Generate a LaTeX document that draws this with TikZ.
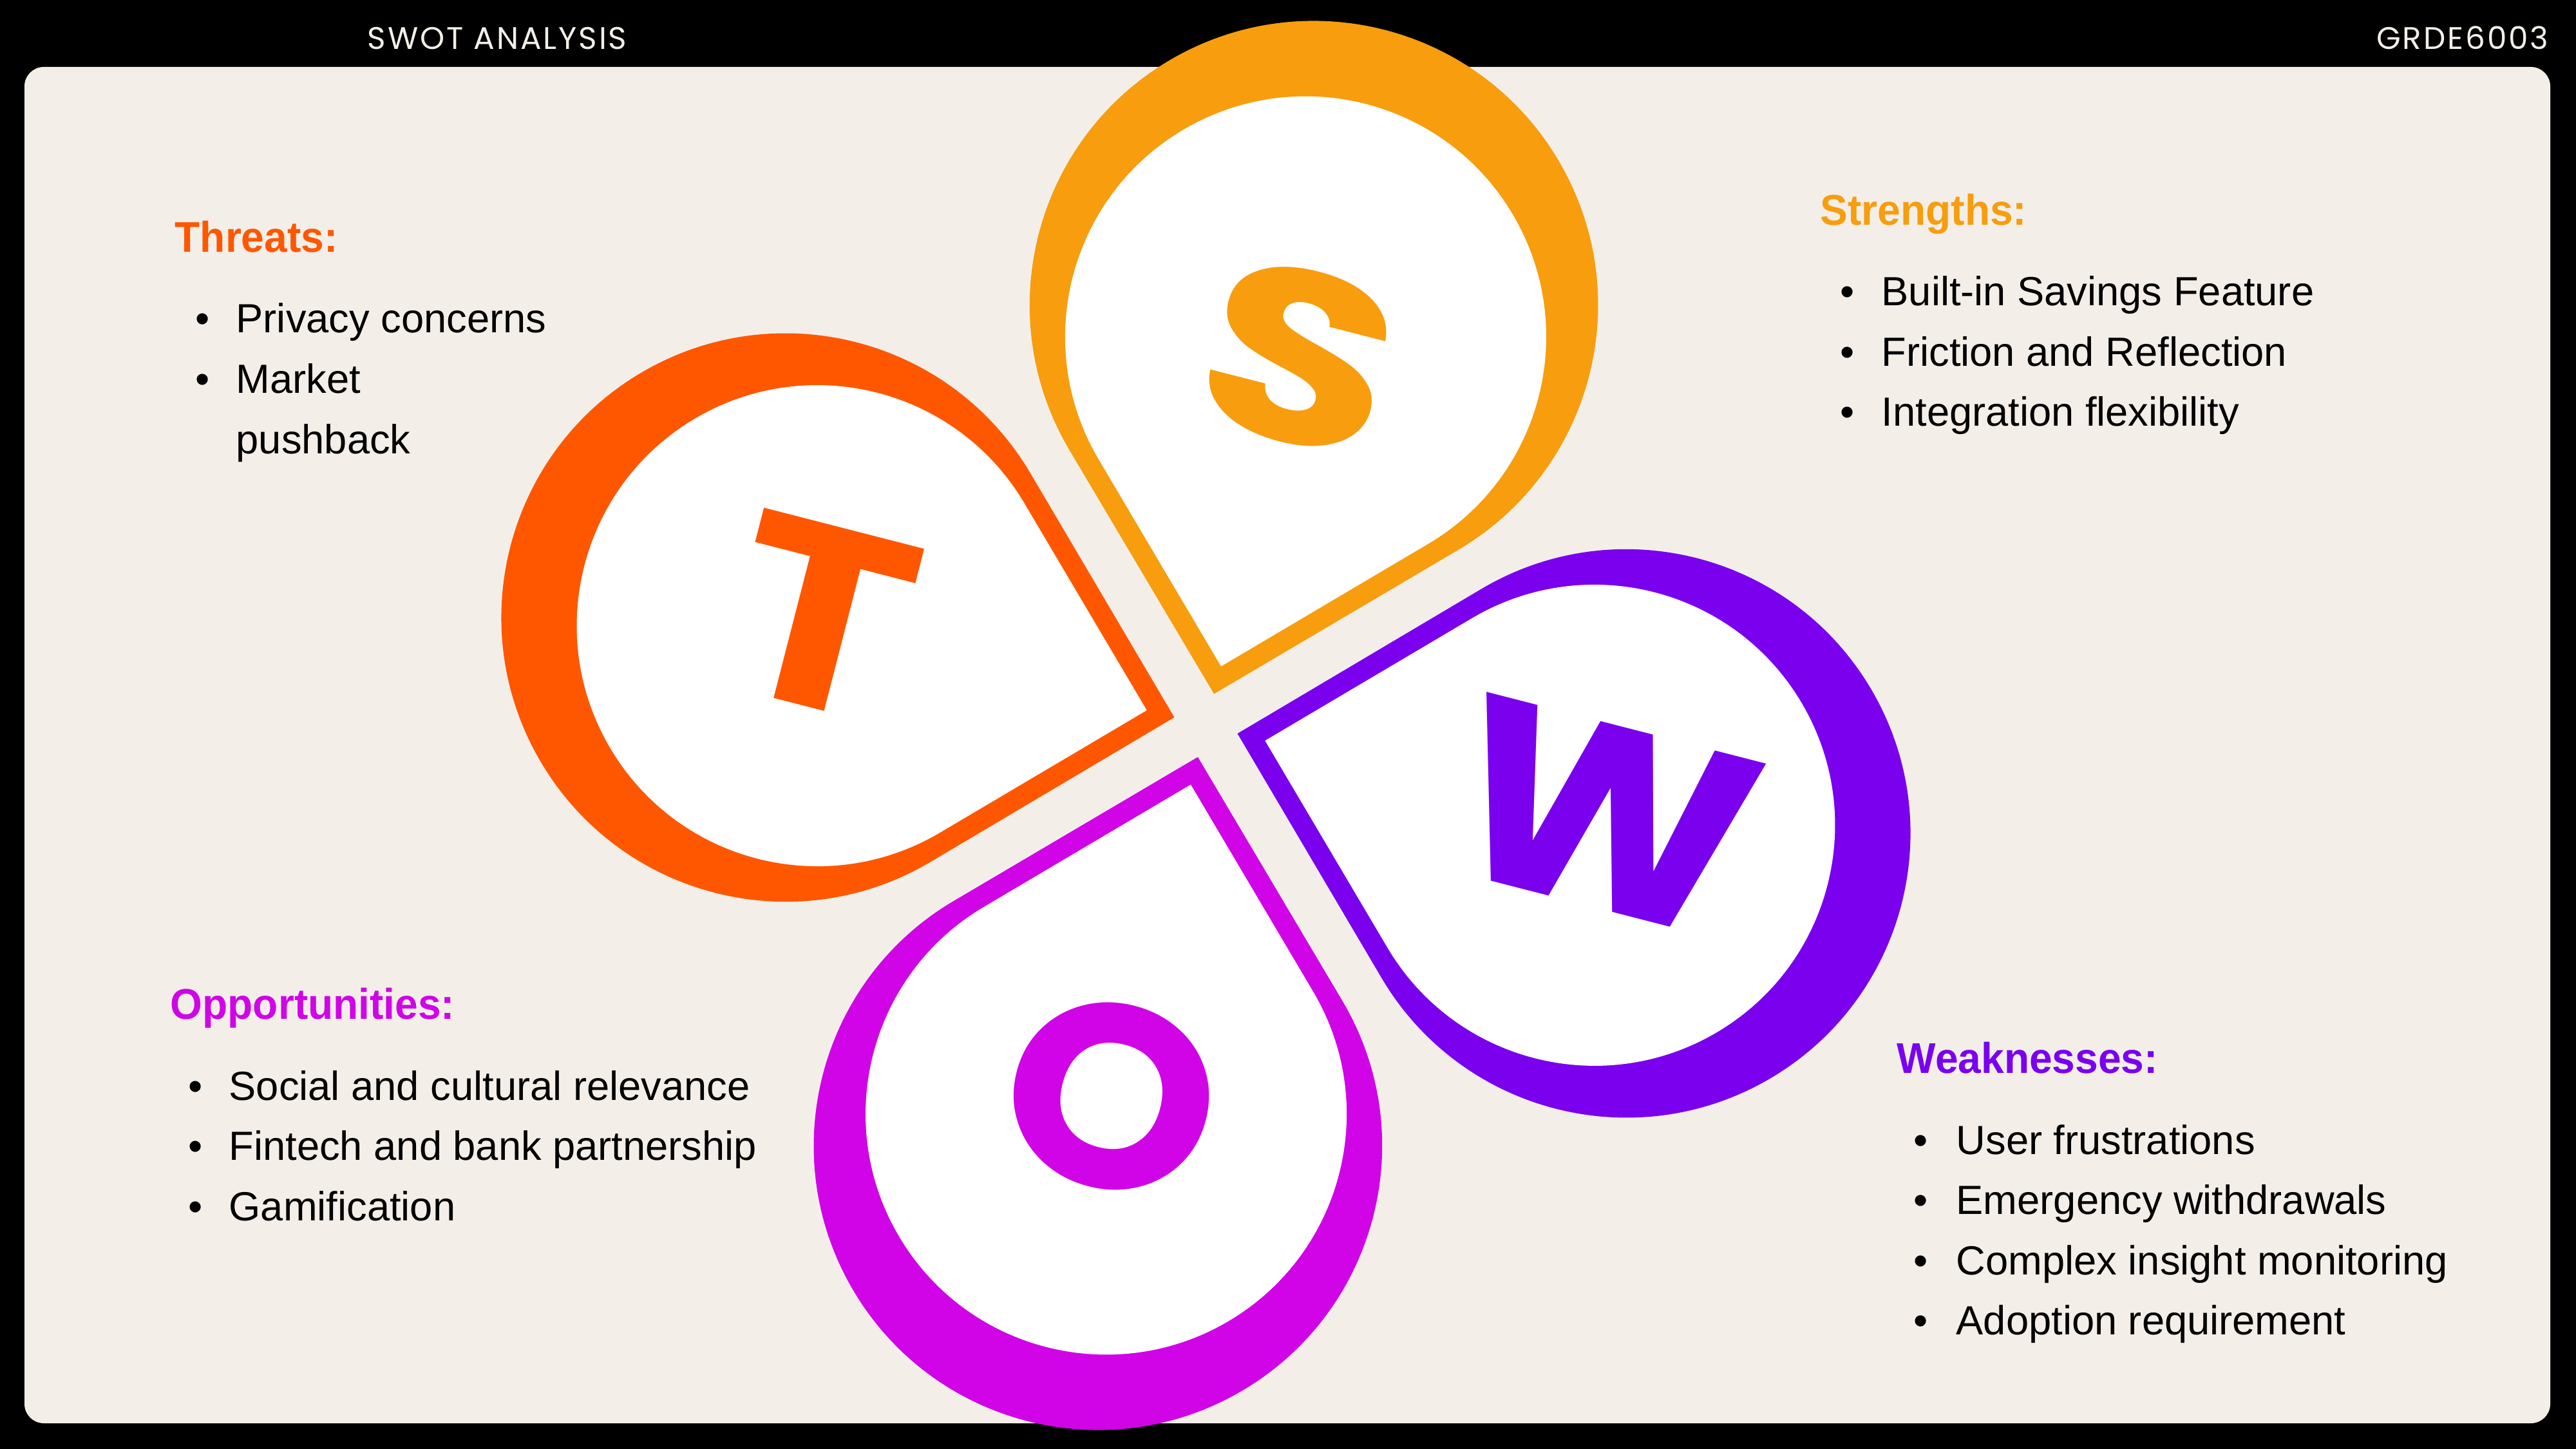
\documentclass[tikz,border=0pt]{standalone}
\usepackage{fontspec}
\usepackage{graphicx}
\setmainfont{Liberation Sans}[BoldFeatures={FakeStretch=0.96}]
\newfontfamily\popfont{Poppins}
\usetikzlibrary{calc}
\definecolor{swotS}{RGB}{248,157,14}
\definecolor{swotT}{RGB}{255,87,0}
\definecolor{swotW}{RGB}{122,0,238}
\definecolor{swotO}{RGB}{208,4,230}
\definecolor{panel}{RGB}{243,239,232}
\tikzset{
  head/.style={anchor=base west,inner sep=0pt,font=\fontsize{19}{19}\selectfont\bfseries},
  item/.style={anchor=base west,inner sep=0pt,font=\fontsize{18}{18}\selectfont},
  bul/.style={anchor=base,inner sep=0pt,font=\fontsize{18}{18}\selectfont},
  ltr/.style={inner sep=0pt,rotate=-14.4,font=\popfont\bfseries\fontsize{106}{106}\selectfont},
  topline/.style={inner sep=0pt,text=panel,font=\popfont\fontsize{13.8}{14}\selectfont}
}
\begin{document}
\begin{tikzpicture}
\useasboundingbox (0,0) rectangle (40,-22.5);
\fill[black] (0,0) rectangle (40,-22.5);
\fill[panel,rounded corners=0.3cm] (0.38,-1.04) rectangle (39.60,-22.10);
\node[topline,anchor=base west] (title) at (5.70,-0.77) {\addfontfeatures{LetterSpace=6}SWOT ANALYSIS};
\node[topline,anchor=base east] (code) at (39.58,-0.77) {\addfontfeatures{LetterSpace=6}GRDE6003};
% four petals round the middle
\begin{scope}[shift={(18.725,-11.265)},rotate=-14.4]
  \foreach \ang/\col/\ch/\off/\dist/\sx/\sy in {0/swotS/S/-0.02/5.91/1.3/1.01,90/swotT/T/0.15/6.2/1.27/1.08,180/swotO/O/-0.01/5.94/1.13/1.08,-90/swotW/W/-0.17/6.34/1.2/1.08}{
    \begin{scope}[rotate=\ang]
      \fill[\col] (0,0.506) -- (3.121,3.619) arc[start angle=-45,end angle=225,radius=4.413] -- cycle;
      \fill[white] (0,0.948) -- (2.641,3.589) arc[start angle=-45,end angle=225,radius=3.735] -- cycle;
      \node[ltr,text=\col] (ltr\ch) at (\off,\dist) {\scalebox{\sx}[\sy]{\ch}};
    \end{scope}
  }
\end{scope}
% threats
\node[head,text=swotT] (threats) at (2.71,-3.92) {Threats:};
\foreach \txt [count=\i] in {Privacy concerns,Market}{
  \node[bul] (tb\i) at (3.15,{-5.17-0.94*(\i-1)}) {•};
  \node[item] (t\i) at (3.66,{-5.17-0.94*(\i-1)}) {\txt};
}
\node[item] (t3) at (3.66,-7.05) {pushback};
% strengths
\node[head,text=swotS] (strengths) at (28.26,-3.50) {Strengths:};
\foreach \txt [count=\i] in {Built-in Savings Feature,Friction and Reflection,Integration flexibility}{
  \node[bul] (sb\i) at (28.69,{-4.75-0.935*(\i-1)}) {•};
  \node[item] (s\i) at (29.21,{-4.75-0.935*(\i-1)}) {\txt};
}
% opportunities
\node[head,text=swotO] (opps) at (2.64,-15.83) {Opportunities:};
\foreach \txt [count=\i] in {Social and cultural relevance,Fintech and bank partnership,Gamification}{
  \node[bul] (ob\i) at (3.04,{-17.08-0.935*(\i-1)}) {•};
  \node[item] (o\i) at (3.55,{-17.08-0.935*(\i-1)}) {\txt};
}
% weaknesses
\node[head,text=swotW] (weak) at (29.45,-16.66) {Weaknesses:};
\foreach \txt [count=\i] in {User frustrations,Emergency withdrawals,Complex insight monitoring,Adoption requirement}{
  \node[bul] (wb\i) at (29.83,{-17.92-0.935*(\i-1)}) {•};
  \node[item] (w\i) at (30.37,{-17.92-0.935*(\i-1)}) {\txt};
}
\end{tikzpicture}
\end{document}
